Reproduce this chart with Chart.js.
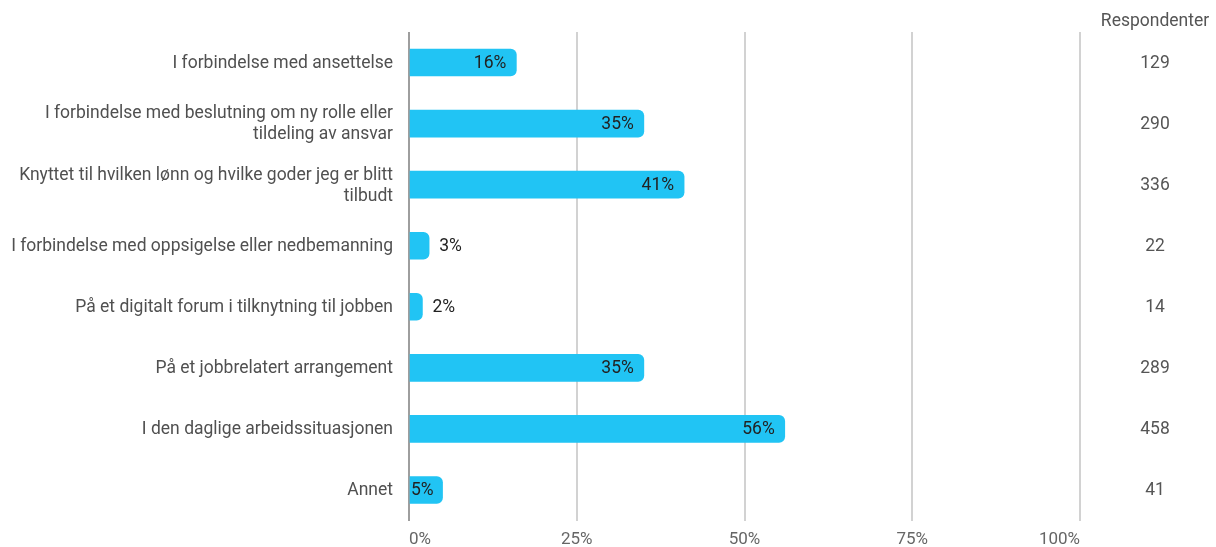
<!DOCTYPE html>
<html>
<head>
<meta charset="utf-8">
<script src="https://cdn.jsdelivr.net/npm/chart.js@4/dist/chart.umd.min.js"></script>
<style>
  html, body { margin: 0; padding: 0; background: #fff; }
  #wrap { width: 1216px; height: 547px; }
</style>
</head>
<body>
<div id="wrap"><canvas id="chart"></canvas></div>
<script>
const categories = [
  "I forbindelse med ansettelse",
  ["I forbindelse med beslutning om ny rolle eller", "tildeling av ansvar"],
  ["Knyttet til hvilken lønn og hvilke goder jeg er blitt", "tilbudt"],
  "I forbindelse med oppsigelse eller nedbemanning",
  "På et digitalt forum i tilknytning til jobben",
  "På et jobbrelatert arrangement",
  "I den daglige arbeidssituasjonen",
  "Annet"
];
const shares = [16, 35, 41, 3, 2, 35, 56, 5];
const respondents = [129, 290, 336, 22, 14, 289, 458, 41];
const countHeader = "Respondenter";
const xTicks = [0, 25, 50, 75, 100];

const FONT = "Roboto, 'Noto Sans', sans-serif";
const SIZE = 17.5;

// value labels on the bars plus the respondent column on the right
const barLabels = {
  id: "barLabels",
  afterDatasetsDraw(chart) {
    const ctx = chart.ctx;
    const meta = chart.getDatasetMeta(0);
    const x = chart.scales.x;
    ctx.save();
    ctx.font = SIZE + "px " + FONT;
    ctx.textBaseline = "middle";
    ctx.fillStyle = "#222";
    meta.data.forEach((bar, i) => {
      const txt = shares[i] + "%";
      const w = ctx.measureText(txt).width;
      const start = x.getPixelForValue(0);
      const len = bar.x - start;
      if (len >= w + 16) {
        ctx.textAlign = "right";
        ctx.fillText(txt, bar.x - 10, bar.y + 1);
      } else if (len >= w + 4) {
        ctx.textAlign = "left";
        ctx.fillText(txt, start + 2, bar.y + 1);
      } else {
        ctx.textAlign = "left";
        ctx.fillText(txt, bar.x + 10, bar.y + 1);
      }
    });

    const colX = 1155;
    ctx.textAlign = "center";
    ctx.fillStyle = "#555";
    ctx.fillText(countHeader, colX, 22);
    meta.data.forEach((bar, i) => {
      ctx.fillText(String(respondents[i]), colX, bar.y + 1);
    });
    ctx.restore();
  }
};

new Chart(document.getElementById("chart"), {
  type: "bar",
  data: {
    labels: categories,
    datasets: [{
      data: shares,
      backgroundColor: "#21c4f4",
      barThickness: 27,
      borderRadius: 6,
      borderSkipped: "start"
    }]
  },
  options: {
    indexAxis: "y",
    responsive: true,
    maintainAspectRatio: false,
    animation: false,
    layout: { padding: { top: 32, right: 136, left: 0, bottom: 0 } },
    plugins: { legend: { display: false }, tooltip: { enabled: false } },
    scales: {
      x: {
        min: 0,
        max: 100,
        afterBuildTicks: s => { s.ticks = xTicks.map(v => ({ value: v })); },
        afterFit: s => { s.height = 25; },
        border: { display: false },
        grid: {
          drawTicks: false,
          lineWidth: 2,
          color: c => c.tick && c.tick.value === 0 ? "#9e9e9e" : "#d2d2d2"
        },
        ticks: {
          align: "inner",
          padding: 9,
          color: "#666",
          font: { family: FONT, size: 17 },
          callback: v => v + "%"
        }
      },
      y: {
        afterFit: s => { s.width = 409; },
        border: { display: false },
        grid: { display: false, drawTicks: false },
        ticks: {
          padding: 16,
          labelOffset: 1,
          color: "#505050",
          font: { family: FONT, size: SIZE, lineHeight: 1.2 }
        }
      }
    }
  },
  plugins: [barLabels]
});
</script>
</body>
</html>
